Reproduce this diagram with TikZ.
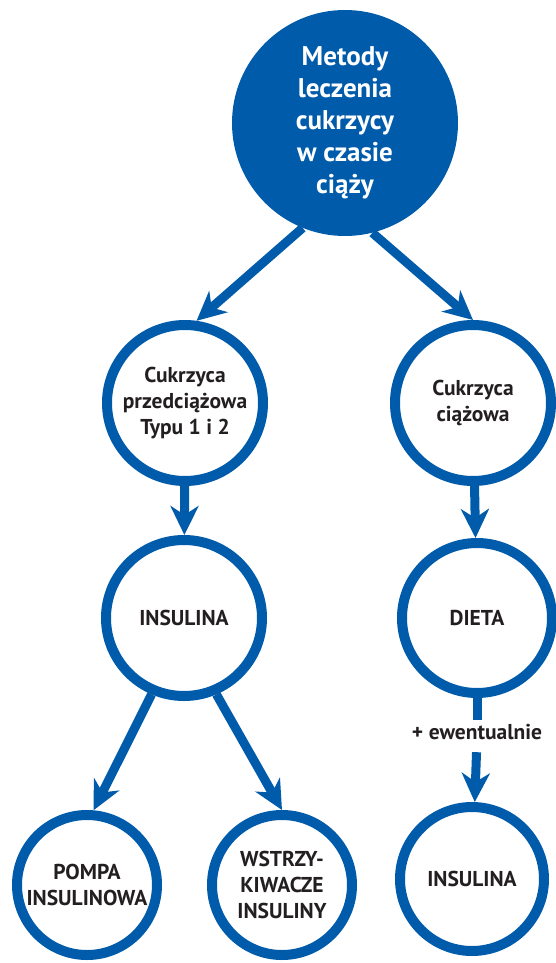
\documentclass[tikz,border=0pt]{standalone}
\usepackage{fontspec}
\setmainfont{PT Sans}
\usepackage{tikz}
\usetikzlibrary{arrows.meta}
\usetikzlibrary{positioning}
\definecolor{diabblue}{RGB}{0,91,170}
\definecolor{darktext}{RGB}{35,31,32}
\tikzstyle{every node}+=[inner sep=0pt]
\tikzstyle{head} = [circle, fill=diabblue, text=white, align=center, minimum size=226pt, font=\bfseries\fontsize{27pt}{32pt}\selectfont]
\tikzstyle{ring} = [circle, draw=diabblue, line width=10pt, text=darktext, align=center, minimum size=156pt, font=\bfseries\fontsize{21.5pt}{26pt}\selectfont]
\tikzstyle{small ring} = [ring, minimum size=140pt]
\tikzstyle{line} = [draw, diabblue, line width=9pt, -{Stealth[length=29pt, width=28pt, inset=9pt]}]
\tikzstyle{note} = [text=darktext, text height=16pt, text depth=0pt, font=\bfseries\fontsize{21.5pt}{26pt}\selectfont]

\begin{document}
\begin{tikzpicture}
            \useasboundingbox (-345pt,-840pt) rectangle (211pt,123pt);
            % Place nodes
            \node [head] (top) {Metody\\leczenia\\cukrzycy\\w czasie\\ciąży};
            \node [ring, below of=top, node distance=280pt, xshift=-160pt] (przed) {Cukrzyca\\przedciążowa\\Typu 1 i 2};
            \node [ring, below of=top, node distance=280pt, xshift=128pt] (ciaz) {Cukrzyca\\ciążowa};
            \node [ring, below of=przed, node distance=215pt, xshift=-1pt] (ins1) {INSULINA};
            \node [ring, below of=ciaz, node distance=215pt, xshift=4pt, minimum size=150pt] (dieta) {DIETA};
            \node [note, below of=dieta, node distance=113pt] (ewent) {+ ewentualnie};
            \node [small ring, below of=ins1, node distance=267pt, xshift=-97pt] (pompa) {POMPA\\INSULINOWA};
            \node [small ring, below of=ins1, node distance=267pt, xshift=98pt] (wstrz) {WSTRZY-\\KIWACZE\\INSULINY};
            \node [ring, below of=dieta, node distance=261pt, xshift=-5pt, minimum size=144pt] (ins2) {INSULINA};
            % Draw edges
            \path [line] (top.248) -- (przed.82);
            \path [line] (top.284) -- (ciaz.north);
            \path [line] (przed) -- (ins1);
            \path [line] (ciaz) -- (dieta);
            \path [line] (ins1.247) -- (pompa.85);
            \path [line] (ins1.293) -- (wstrz.north);
            \path [draw, diabblue, line width=9pt, shorten >=3pt] (dieta) -- (ewent.north);
            \path [line, shorten <=13pt] (ewent.south) -- (ins2);
          \end{tikzpicture}
\end{document}
